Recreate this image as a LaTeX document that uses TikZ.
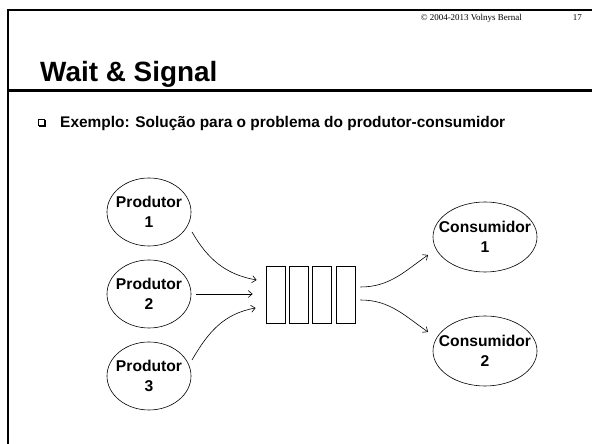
\documentclass[tikz,border=0pt]{standalone}
\usepackage{fontspec}
\setmainfont{Liberation Sans}
\newfontfamily\hdrfont{Liberation Serif}
\usetikzlibrary{shapes.geometric,arrows.meta}

\def\cellstep{23.3}
\def\firstcell{275.5}

\tikzset{
  proc/.style={draw, ellipse, line width=0.6bp, inner sep=0pt, inner xsep=-25bp,
    align=center, font=\bfseries\fontsize{15.7}{20}\selectfont},
  prod/.style={proc, minimum width=84bp, minimum height=68bp},
  cons/.style={proc, minimum width=104bp, minimum height=70bp},
  cell/.style={draw, line width=0.8bp, minimum width=19bp, minimum height=57bp, inner sep=0pt},
  flow/.style={-{Straight Barb[length=4bp,width=7bp]}, line width=0.6bp},
}

\begin{document}
\begin{tikzpicture}[x=1bp,y=1bp]
  \useasboundingbox (0,0) rectangle (592,444);
  % slide frame
  \draw[line width=1.5bp] (8,0) -- (8,434) -- (592,434);
  \draw[line width=3bp] (8,353) -- (592,353);
  % header
  \node[anchor=base east, inner sep=0pt, font=\hdrfont\fontsize{9}{11}\selectfont]
    (copy) at (522,423) {\textcopyright{} 2004-2013 Volnys Bernal};
  \node[anchor=base east, inner sep=0pt, font=\hdrfont\fontsize{9}{11}\selectfont]
    (page) at (582,423) {17};
  \node[anchor=base west, inner sep=0pt, font=\bfseries\fontsize{28}{32}\selectfont]
    (title) at (40,362) {Wait \& Signal};
  % bullet line
  \draw[line width=0.6bp] (38.5,318.5) rectangle (44.5,324.5);
  \draw[line width=1bp] (39.2,317.9) -- (45.1,317.9) -- (45.1,323.8);
  \node[anchor=base west, inner sep=0pt, font=\bfseries\fontsize{15.5}{18}\selectfont]
    (item) at (60,316) {Exemplo: Solução para o problema do produtor-consumidor};

  % producers
  \foreach \i/\y in {1/232, 2/150, 3/68}
    \node[prod] (p\i) at (149,\y) {Produtor\\\i};
  % queue cells
  \foreach \i in {1,...,4}
    \node[cell] (q\i) at (\firstcell+\cellstep*\i-\cellstep,149) {};
  % consumers
  \node[cons] (c1) at (485,207) {Consumidor\\1};
  \node[cons] (c2) at (485,93) {Consumidor\\2};

  % producers -> queue
  \draw[flow] ([shift={(43bp,-20bp)}]p1.center) to[out=-60,in=170] ([shift={(-9bp,15bp)}]q1.west);
  \draw[flow] ([xshift=5bp]p2.east) -- ([xshift=-13bp]p2.east -| q1.west);
  \draw[flow] ([shift={(43bp,16bp)}]p3.center) to[out=60,in=190] ([shift={(-10bp,-13bp)}]q1.west);
  % queue -> consumers
  \draw[flow] ([shift={(5bp,8bp)}]q4.east) to[out=0,in=215] ([shift={(-57bp,-18bp)}]c1.center);
  \draw[flow] ([shift={(5bp,-5bp)}]q4.east) to[out=0,in=145] ([shift={(-57bp,19bp)}]c2.center);
\end{tikzpicture}
\end{document}
